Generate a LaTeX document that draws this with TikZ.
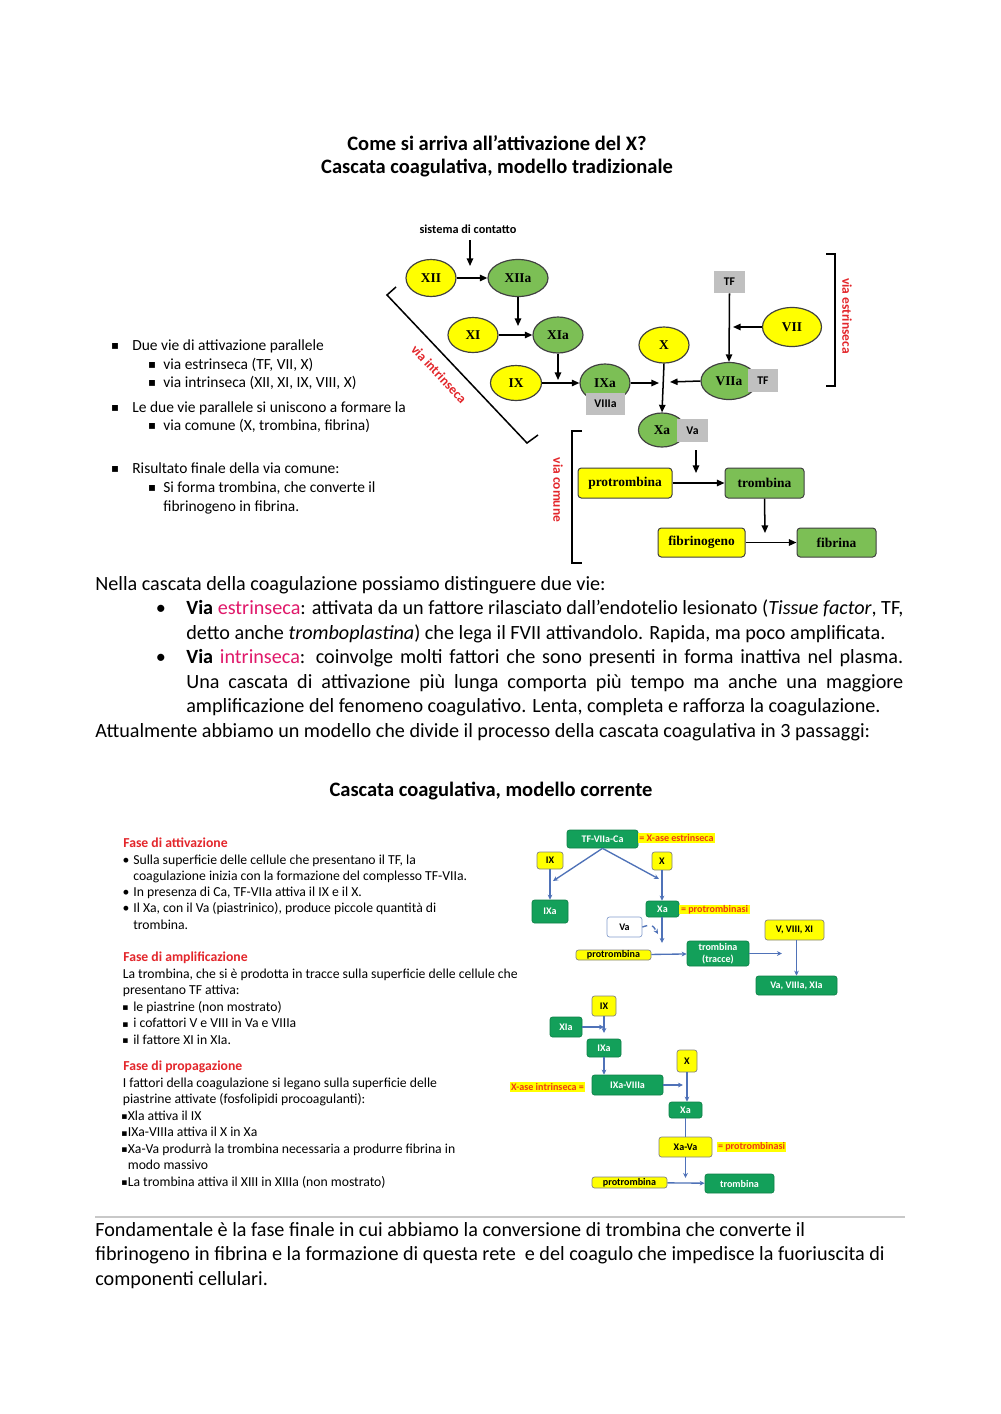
\documentclass[tikz,border=0pt]{standalone}
\usepackage{fontspec}
\setmainfont{Carlito}
\newfontfamily\tnr{Liberation Serif}
\newfontfamily\djv{DejaVu Sans}
\usetikzlibrary{shapes.geometric,arrows.meta}
\newcommand\pxu{0.595pt}
\newcommand\bigsq{{\djv\fontsize{7}{8}\selectfont ▪}}
\newcommand\smsq{{\djv\fontsize{5.5}{6}\selectfont ▪}}
\definecolor{ylw}{HTML}{FFFF00}
\definecolor{grnA}{HTML}{7CBF55}
\definecolor{greyb}{HTML}{C0C0C0}
\definecolor{grnB}{HTML}{13A05A}
\definecolor{arrB}{HTML}{4F72B8}
\definecolor{redH}{HTML}{E3262B}
\definecolor{hlred}{HTML}{EE3A14}
\definecolor{mag}{HTML}{E0186A}
\definecolor{lineg}{HTML}{C8C8C8}
\begin{document}
\begin{tikzpicture}[x=0.595pt,y=-0.595pt,
  fy/.style={ellipse, draw=black!75, line width=0.7pt, fill=ylw, font=\tnr\bfseries\fontsize{8}{9}\selectfont, inner sep=0pt},
  fg/.style={fy, fill=grnA},
  gb/.style={rectangle, fill=greyb, font=\bfseries\fontsize{7}{8}\selectfont, inner sep=0pt},
  rb/.style={rectangle, rounded corners=2pt, draw=black!75, line width=0.6pt, font=\tnr\bfseries\fontsize{8}{9}\selectfont, inner sep=0pt},
  ar/.style={-{Triangle[length=4.5pt,width=3.8pt]}, line width=0.9pt, black},
  ab/.style={-{Stealth[length=3pt,width=2.8pt]}, line width=0.8pt, arrB},
  lg/.style={rectangle, rounded corners=1.5pt, fill=grnB, draw=grnB!80!black, line width=0.4pt, text=white, font=\bfseries\fontsize{6}{7}\selectfont, inner sep=0pt, align=center},
  ly/.style={lg, fill=ylw, draw=black!50, text=black},
  hl/.style={rectangle, fill=ylw, text=hlred, font=\bfseries\fontsize{6}{7}\selectfont, inner sep=0pt},
  vred/.style={text=redH, font=\bfseries\fontsize{8}{9}\selectfont, inner sep=0pt},
  ttl/.style={font=\bfseries\fontsize{12.2}{14}\selectfont, inner sep=0pt},
  body/.style={anchor=base west, inner sep=0pt, font=\fontsize{12}{14}\selectfont},
  sm/.style={anchor=base west, inner sep=0pt, font=\fontsize{9.2}{11}\selectfont},
  tny/.style={anchor=base west, inner sep=0pt, font=\fontsize{8.15}{10}\selectfont},
  hdr/.style={tny, text=redH, font=\bfseries\fontsize{8.15}{10}\selectfont}
]
\fill[white] (0,0) rectangle (1000,1414);
\useasboundingbox (0,0) rectangle (1000,1414);

% ---------- titles ----------
\node[ttl] (t1) at (497,143) {Come si arriva all’attivazione del X?};
\node[ttl] (t2) at (497,168) {Cascata coagulativa, modello tradizionale};

% ---------- top diagram ----------
\node[inner sep=0pt, font=\bfseries\fontsize{7.3}{8}\selectfont] (sist) at (468,229) {sistema di contatto};
\node[fy, minimum width=50*\pxu, minimum height=37*\pxu] (xii) at (431,278) {XII};
\node[fg, minimum width=60*\pxu, minimum height=37*\pxu] (xiia) at (518,278) {XIIa};
\node[fy, minimum width=50*\pxu, minimum height=35*\pxu] (xi) at (473,335) {XI};
\node[fg, minimum width=50*\pxu, minimum height=36*\pxu] (xia) at (558,335) {XIa};
\node[fy, minimum width=51*\pxu, minimum height=35*\pxu] (ix) at (516,383) {IX};
\node[fg, minimum width=50*\pxu, minimum height=38*\pxu] (ixa) at (605,383) {IXa};
\node[gb, minimum width=39*\pxu, minimum height=22*\pxu] (viiia) at (605.5,404) {VIIIa};
\node[fy, minimum width=50*\pxu, minimum height=36*\pxu] (x) at (664,345) {X};
\node[fg, minimum width=56*\pxu, minimum height=37*\pxu] (viia) at (729,381) {VIIa\hspace{6pt}};
\node[gb, minimum width=30*\pxu, minimum height=23*\pxu] (tfb) at (763,380.5) {TF};
\node[gb, minimum width=31*\pxu, minimum height=22*\pxu] (tft) at (729.5,282) {TF};
\node[fy, minimum width=59*\pxu, minimum height=39*\pxu] (vii) at (792,327) {VII};
\node[fg, minimum width=47*\pxu, minimum height=34*\pxu] (xa) at (662,430) {Xa\hspace{12pt}};
\node[gb, minimum width=31*\pxu, minimum height=23*\pxu] (va) at (692.5,430.5) {Va};

\coordinate (c0) at (470,240);
\coordinate (c1) at (470,266);
\draw[ar] (c0) -- (c1);
\draw[ar] (xii) -- (xiia);
\coordinate (c2) at (518,326);
\draw[ar] (xiia.south) -- (c2);
\draw[ar] (xi) -- (xia);
\coordinate (c3) at (558,380);
\draw[ar] (xia.south) -- (c3);
\draw[ar] (ix) -- (ixa);
\coordinate (c4) at (659,383);
\draw[ar] (ixa.east) -- (c4);
\coordinate (c5) at (670,382);
\draw[ar] (viia.west) -- (c5);
\draw[ar] (x.south) -- (xa.north);
\draw[ar] (tft.south) -- (viia.north);
\coordinate (c6) at (733,327);
\draw[ar] (vii.west) -- (c6);

\draw[line width=0.9pt] (826,254) -- (835,254) -- (835,386) -- (826,386);
\node[vred, rotate=-90] (vest) at (847,316) {via estrinseca};
\draw[line width=0.9pt] (396,287) -- (387,295) -- (527,443) -- (538,435);
\node[vred, rotate=-47] (vint) at (439,374) {via intrinseca};
\draw[line width=0.9pt] (582,431) -- (572,431) -- (572,563) -- (582,563);
\node[vred, rotate=-90] (vcom) at (558,490) {via comune};

\node[rb, fill=ylw, minimum width=94*\pxu, minimum height=30*\pxu] (prot) at (625,483) {protrombina};
\node[rb, fill=grnA, minimum width=79*\pxu, minimum height=30*\pxu] (tromb) at (764.5,483) {trombina};
\node[rb, fill=ylw, minimum width=87*\pxu, minimum height=29*\pxu] (fibgen) at (701.5,542.5) {fibrinogeno};
\node[rb, fill=grnA, minimum width=79*\pxu, minimum height=29*\pxu] (fibr) at (836.5,542.5) {fibrina};
\coordinate (c7) at (696,450);
\coordinate (c8) at (696,473);
\draw[ar] (c7) -- (c8);
\draw[ar] (prot) -- (tromb);
\coordinate (c9) at (765,533);
\draw[ar] (tromb.south) -- (c9);
\draw[ar] (fibgen) -- (fibr);

% ---------- top-left bullets ----------
\node[sm, anchor=base] (q1) at (115,349) {\bigsq};
\node[sm] (l1) at (132,350) {Due vie di attivazione parallele};
\node[sm, anchor=base] (q2) at (152,368) {\bigsq};
\node[sm] (l2) at (163,369) {via estrinseca (TF, VII, X)};
\node[sm, anchor=base] (q3) at (152,386.5) {\bigsq};
\node[sm] (l3) at (163,387.5) {via intrinseca (XII, XI, IX, VIII, X)};
\node[sm, anchor=base] (q4) at (115,411) {\bigsq};
\node[sm] (l4) at (132,412) {Le due vie parallele si uniscono a formare la};
\node[sm, anchor=base] (q5) at (152,429.5) {\bigsq};
\node[sm] (l5) at (163,430.5) {via comune (X, trombina, fibrina)};
\node[sm, anchor=base] (q6) at (115,472) {\bigsq};
\node[sm] (l6) at (132,473) {Risultato finale della via comune:};
\node[sm, anchor=base] (q7) at (152,491.5) {\bigsq};
\node[sm] (l7) at (163,492.5) {Si forma trombina, che converte il};
\node[sm] (l8) at (163,511.5) {fibrinogeno in fibrina.};

% ---------- body text ----------
\node[body] (p1) at (95,590) {Nella cascata della coagulazione possiamo distinguere due vie:};
\node[body, anchor=base] (pb1) at (161,614.5) {•};
\node[body] (p2) at (186,614.5) {\hbox to 426.6pt{\textbf{Via} \textcolor{mag}{estrinseca}: attivata da un fattore rilasciato dall’endotelio lesionato (\textit{Tissue factor}, TF,}};
\node[body] (p3) at (186,639) {detto anche \textit{tromboplastina}) che lega il FVII attivandolo. Rapida, ma poco amplificata.};
\node[body, anchor=base] (pb2) at (161,663.5) {•};
\node[body] (p4) at (186,663.5) {\hbox to 426.6pt{\textbf{Via} \textcolor{mag}{intrinseca}: coinvolge molti fattori che sono presenti in forma inattiva nel plasma.}};
\node[body] (p5) at (186,688) {\hbox to 426.6pt{Una cascata di attivazione più lunga comporta più tempo ma anche una maggiore}};
\node[body] (p6) at (186,712.5) {amplificazione del fenomeno coagulativo. Lenta, completa e rafforza la coagulazione.};
\node[body] (p7) at (95,737) {Attualmente abbiamo un modello che divide il processo della cascata coagulativa in 3 passaggi:};

\node[ttl] (t3) at (491,791) {Cascata coagulativa, modello corrente};

% ---------- lower-left text ----------
\node[hdr] (h1) at (123,847) {Fase di attivazione};
\node[tny, anchor=base] (d1) at (126,864) {•};
\node[tny] (a1) at (133,864) {Sulla superficie delle cellule che presentano il TF, la};
\node[tny] (a2) at (133,880) {coagulazione inizia con la formazione del complesso TF-VIIa.};
\node[tny, anchor=base] (d2) at (126,896) {•};
\node[tny] (a3) at (133,896) {In presenza di Ca, TF-VIIa attiva il IX e il X.};
\node[tny, anchor=base] (d3) at (126,912.5) {•};
\node[tny] (a4) at (133,912.5) {Il Xa, con il Va (piastrinico), produce piccole quantità di};
\node[tny] (a5) at (133,929) {trombina.};
\node[hdr] (h2) at (123,961.5) {Fase di amplificazione};
\node[tny] (b1) at (122.5,978) {La trombina, che si è prodotta in tracce sulla superficie delle cellule che};
\node[tny] (b2) at (122.5,994.5) {presentano TF attiva:};
\node[tny, anchor=base] (e1) at (125.5,1010.5) {\smsq};
\node[tny] (b3) at (133,1011) {le piastrine (non mostrato)};
\node[tny, anchor=base] (e2) at (125.5,1027) {\smsq};
\node[tny] (b4) at (133,1027.5) {i cofattori V e VIII in Va e VIIIa};
\node[tny, anchor=base] (e3) at (125.5,1043.5) {\smsq};
\node[tny] (b5) at (133,1044) {il fattore XI in XIa.};
\node[hdr] (h3) at (123,1070.5) {Fase di propagazione};
\node[tny] (g1) at (122.5,1087) {I fattori della coagulazione si legano sulla superficie delle};
\node[tny] (g2) at (122.5,1103.5) {piastrine attivate (fosfolipidi procoagulanti):};
\node[tny, anchor=base] (f1) at (124.5,1119.5) {\smsq};
\node[tny] (g3) at (127.5,1120) {Xla attiva il IX};
\node[tny, anchor=base] (f2) at (124.5,1136) {\smsq};
\node[tny] (g4) at (127.5,1136.5) {IXa-VIIIa attiva il X in Xa};
\node[tny, anchor=base] (f3) at (124.5,1152.5) {\smsq};
\node[tny] (g5) at (127.5,1153) {Xa-Va produrrà la trombina necessaria a produrre fibrina in};
\node[tny] (g6) at (127.5,1169.5) {modo massivo};
\node[tny, anchor=base] (f4) at (124.5,1185.5) {\smsq};
\node[tny] (g7) at (127.5,1186) {La trombina attiva il XIII in XIIIa (non mostrato)};

% ---------- lower diagram ----------
\node[lg, minimum width=71*\pxu, minimum height=18*\pxu] (tfv) at (602.5,839) {TF-VIIa-Ca};
\node[hl, minimum width=77*\pxu, minimum height=10*\pxu] (hle) at (676.5,838) {= X-ase estrinseca};
\node[ly, minimum width=26*\pxu, minimum height=17*\pxu] (ix2) at (550,860.5) {IX};
\node[ly, minimum width=20*\pxu, minimum height=18*\pxu] (x2) at (662,861) {X};
\node[lg, minimum width=36*\pxu, minimum height=23*\pxu] (ixa2) at (550,911.5) {IXa};
\node[lg, minimum width=33*\pxu, minimum height=16*\pxu] (xa2) at (662.5,909) {Xa};
\node[hl, minimum width=71*\pxu, minimum height=9*\pxu] (hlp) at (714.5,909.5) {= protrombinasi};
\node[lg, fill=white, draw=arrB!70, text=black, minimum width=35*\pxu, minimum height=20*\pxu] (va2) at (624.5,927) {Va};
\node[ly, minimum width=75*\pxu, minimum height=10*\pxu] (prot2) at (613.5,955) {protrombina};
\node[lg, minimum width=62*\pxu, minimum height=25*\pxu] (tromb2) at (718,953.5) {trombina\\(tracce)};
\node[ly, minimum width=59*\pxu, minimum height=20*\pxu] (v8) at (794.5,930) {V, VIII, XI};
\node[lg, minimum width=81*\pxu, minimum height=19*\pxu] (va8) at (796.5,985.5) {Va, VIIIa, XIa};
\node[ly, minimum width=24*\pxu, minimum height=20*\pxu] (ix3) at (604,1006) {IX};
\node[lg, minimum width=32*\pxu, minimum height=20*\pxu] (xia3) at (566,1027) {XIa};
\node[lg, minimum width=34*\pxu, minimum height=18*\pxu] (ixa3) at (604,1048) {IXa};
\node[lg, minimum width=71*\pxu, minimum height=20*\pxu] (ixv) at (627.5,1085) {IXa-VIIIa};
\node[hl, minimum width=75*\pxu, minimum height=10*\pxu] (hli) at (547.5,1087) {X-ase intrinseca =};
\node[ly, minimum width=20*\pxu, minimum height=22*\pxu] (x3) at (687,1061) {X};
\node[lg, minimum width=33*\pxu, minimum height=16*\pxu] (xa3) at (685.5,1110) {Xa};
\node[ly, minimum width=53*\pxu, minimum height=20*\pxu] (xava) at (685.5,1147) {Xa-Va};
\node[hl, minimum width=69*\pxu, minimum height=10*\pxu] (hlp2) at (751.5,1147) {= protrombinasi};
\node[ly, minimum width=75*\pxu, minimum height=11*\pxu] (prot3) at (629.5,1182.5) {protrombina};
\node[lg, minimum width=69*\pxu, minimum height=19*\pxu] (tromb3) at (739.5,1183.5) {trombina};

\coordinate (c10) at (553,881);
\coordinate (c11) at (659,879);
\draw[ab] (tfv.south) -- (c10);
\draw[ab] (tfv.south) -- (c11);
\draw[ab] (ix2) -- (ixa2);
\draw[ab] (x2.south) -- (x2.south |- xa2.north);
\coordinate (c12) at (658,934);
\draw[ab, dashed] (va2.east) .. controls (652,924) .. (c12);
\coordinate (c13) at (662,943);
\draw[ab] (xa2.south -| c13) -- (c13);
\draw[ab] (prot2) -- (tromb2);
\coordinate (c14) at (782,953.5);
\draw[ab] (tromb2.east) -- (c14);
\draw[ab] (v8.south -| va8.north) -- (va8.north);
\coordinate (c15) at (604,1027);
\draw[ab] (xia3) -- (c15);
\coordinate (c16) at (604,1033);
\draw[ab] (ix3.south) -- (c16);
\draw[ab] (ixa3.south) -- (ixa3.south |- ixv.north);
\coordinate (c17) at (683,1085);
\draw[ab] (ixv.east) -- (c17);
\draw[ab] (x3.south) -- (x3.south |- xa3.north);
\draw[arrB, line width=0.8pt] (xa3) -- (xava);
\coordinate (c18) at (685.5,1178);
\draw[ab] (xava.south) -- (c18);
\draw[ab] (prot3) -- (tromb3);

% ---------- separator and final paragraph ----------
\draw[lineg, line width=1pt] (95,1217) -- (905,1217);
\node[body] (f1p) at (95,1236) {Fondamentale è la fase finale in cui abbiamo la conversione di trombina che converte il};
\node[body] (f2p) at (95,1260.5) {fibrinogeno in fibrina e la formazione di questa rete\ \ e del coagulo che impedisce la fuoriuscita di};
\node[body] (f3p) at (95,1285) {componenti cellulari.};
\end{tikzpicture}
\end{document}
